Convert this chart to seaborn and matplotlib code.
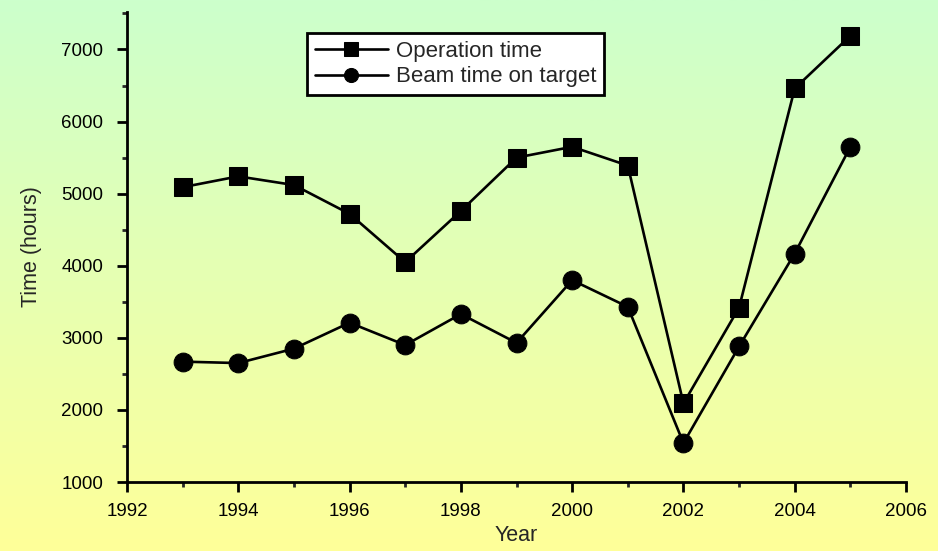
import numpy as np
import pandas as pd
import matplotlib
matplotlib.use("Agg")
import matplotlib.pyplot as plt
import seaborn as sns
from matplotlib.ticker import MultipleLocator

years = [1993, 1994, 1995, 1996, 1997, 1998, 1999, 2000, 2001, 2002, 2003, 2004, 2005]
operation_time = [5090, 5240, 5120, 4720, 4050, 4760, 5500, 5650, 5390, 2090, 3420, 6460, 7190]
beam_time = [2670, 2650, 2850, 3210, 2900, 3330, 2930, 3800, 3430, 1540, 2880, 4170, 5650]
series_names = ["Operation time", "Beam time on target"]

sns.set_style("ticks")
plt.rcParams['font.family'] = ['Liberation Sans', 'DejaVu Sans']

fig = plt.figure(figsize=(9.38, 5.51), dpi=100)

# gradient background
bg = fig.add_axes([0, 0, 1, 1], zorder=-10)
top = np.array([204, 255, 204]) / 255
bot = np.array([255, 255, 153]) / 255
t = np.linspace(0, 1, 256)[:, None]
grad = top[None, :] * (1 - t) + bot[None, :] * t
bg.imshow(grad[:, None, :], aspect='auto', extent=[0, 1, 0, 1], origin='upper')
bg.set_axis_off()

ax = fig.add_axes([0.1354, 0.1252, 0.8305, 0.853])
ax.set_facecolor('none')

df = pd.DataFrame({"Year": years, series_names[0]: operation_time, series_names[1]: beam_time})

sns.lineplot(data=df, x="Year", y=series_names[0], ax=ax, color='black', linewidth=1.9,
             marker='s', markersize=13, markerfacecolor='black', markeredgecolor='black',
             label=series_names[0])
sns.lineplot(data=df, x="Year", y=series_names[1], ax=ax, color='black', linewidth=1.9,
             marker='o', markersize=13.5, markerfacecolor='black', markeredgecolor='black',
             label=series_names[1])

ax.set_xlim(1992, 2006)
ax.set_ylim(1000, 7520)
ax.xaxis.set_major_locator(MultipleLocator(2))
ax.xaxis.set_minor_locator(MultipleLocator(1))
ax.yaxis.set_major_locator(MultipleLocator(1000))
ax.yaxis.set_minor_locator(MultipleLocator(500))

for s in ['top', 'right']:
    ax.spines[s].set_visible(False)
for s in ['left', 'bottom']:
    ax.spines[s].set_linewidth(2)
    ax.spines[s].set_color('black')

ax.tick_params(axis='both', which='major', direction='out', length=7, width=2,
               labelsize=13.5, colors='black')
ax.tick_params(axis='y', which='major', pad=10)
ax.tick_params(axis='x', which='major', pad=8)
ax.tick_params(axis='both', which='minor', direction='out', length=3.5, width=2)

ax.set_xlabel("Year", fontsize=15.5, labelpad=4)
ax.set_ylabel("Time (hours)", fontsize=15.5, labelpad=14)

leg = ax.legend(loc='upper left', bbox_to_anchor=(0.231, 0.955), frameon=True, fancybox=False,
                fontsize=16, handlelength=3.3, borderpad=0.35, labelspacing=0.2,
                handletextpad=0.35, markerscale=0.75, borderaxespad=0)
leg.get_frame().set_edgecolor('black')
leg.get_frame().set_linewidth(2)
leg.get_frame().set_facecolor('white')
leg.get_frame().set_alpha(1)

fig.savefig("out.png", dpi=100)
